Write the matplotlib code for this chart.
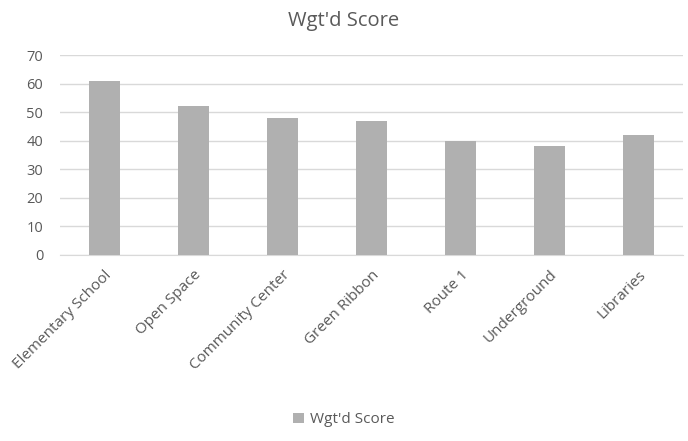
import matplotlib
matplotlib.use('Agg')
import matplotlib.pyplot as plt

categories = ['Elementary School', 'Open Space', 'Community Center', 'Green Ribbon',
              'Route 1', 'Underground', 'Libraries']
scores = [61, 52, 48, 47, 40, 38, 42]
series_name = "Wgt'd Score"

plt.rcParams['font.family'] = ['Open Sans', 'DejaVu Sans']
txt = '#595959'

fig = plt.figure(figsize=(6.88, 4.41), dpi=100)
ax = fig.add_axes([0.087, 0.422, 0.906, 0.453])

ax.bar(range(len(categories)), scores, width=0.35, color='#B0B0B0', label=series_name, zorder=3)

ax.set_xlim(-0.5, len(categories) - 0.5)
ax.set_ylim(0, 70)
ax.set_yticks(range(0, 71, 10))
ax.grid(axis='y', color='#D9D9D9', linewidth=1, zorder=0)
for s in ['top', 'right', 'left']:
    ax.spines[s].set_visible(False)
ax.spines['bottom'].set_color('#D9D9D9')
ax.tick_params(axis='both', length=0, colors=txt)
ax.tick_params(axis='y', pad=12, labelsize=10.5)
ax.tick_params(axis='x', pad=9, labelsize=11)
ax.set_xticks(range(len(categories)))
ax.set_xticklabels(categories, rotation=45, ha='right', rotation_mode='anchor', color=txt)

fig.suptitle(series_name, y=0.975, fontsize=14.5, color=txt)
fig.legend(loc='lower center', bbox_to_anchor=(0.5, 0.0), frameon=False, fontsize=11,
           handlelength=0.7, handleheight=0.7, handletextpad=0.4, labelcolor=txt)

fig.savefig('out.png', dpi=100)
